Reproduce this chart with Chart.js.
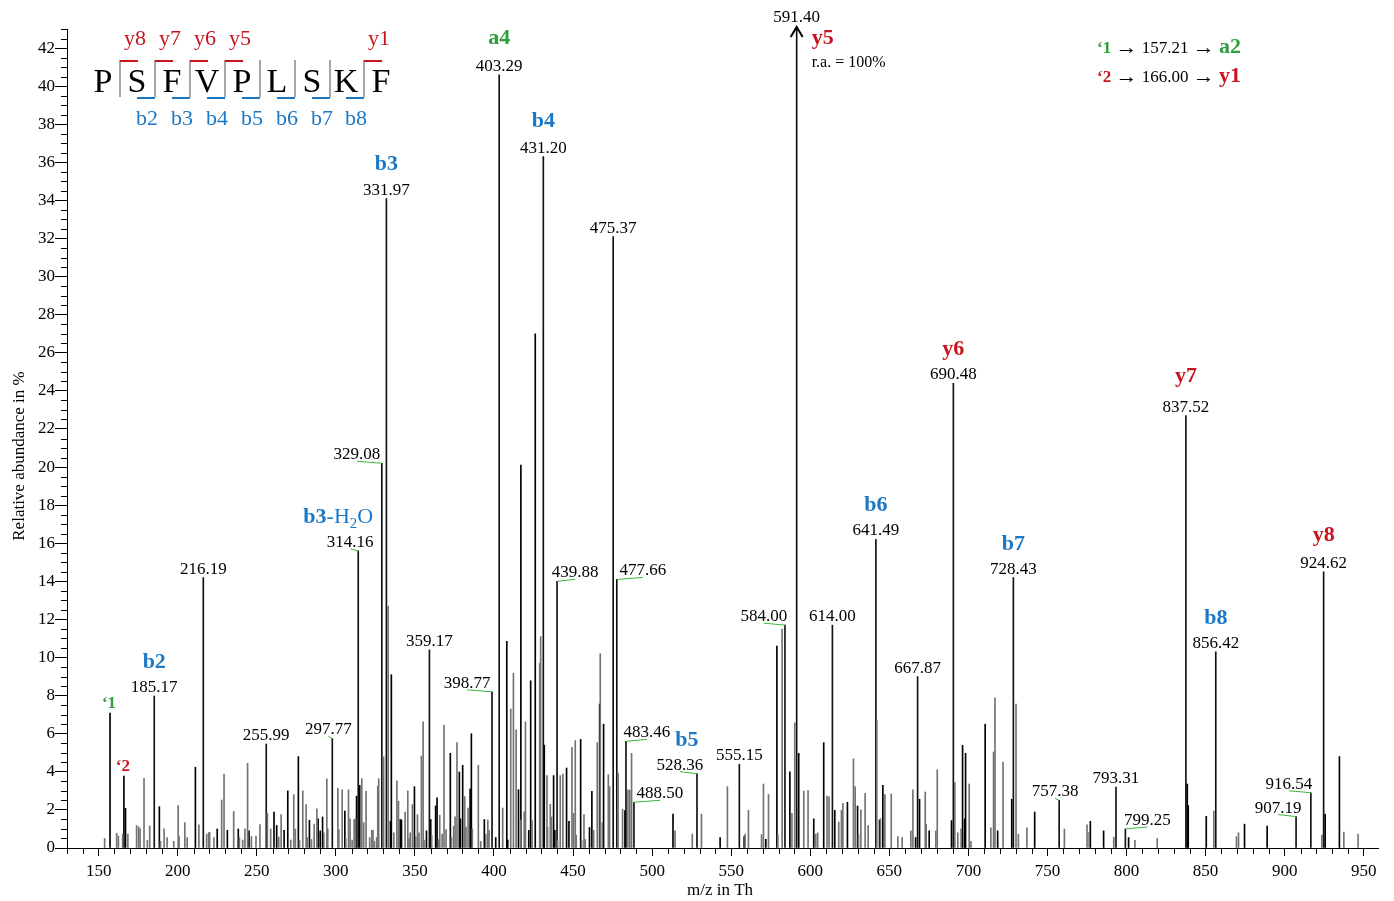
<!DOCTYPE html>
<html>
<head>
<meta charset="utf-8">
<script src="https://cdn.jsdelivr.net/npm/chart.js@4.4.1/dist/chart.umd.min.js"></script>
<style>
  html, body { margin: 0; padding: 0; background: #fff; }
  #wrap { width: 1394px; height: 901px; }
</style>
</head>
<body>
<div id="wrap"><canvas id="spectrum" width="1394" height="901"></canvas></div>
<script>
// unassigned peaks [m/z, relative abundance %], dark sticks
const darkPeaks = [
  [167.0, 2.08], [188.4, 2.17], [211.2, 4.24], [225.0, 1.0], [231.4, 0.93], [238.3, 1.0], [245.1, 0.9],
  [260.9, 1.89], [262.6, 1.18], [267.3, 0.93], [269.6, 3.0], [276.3, 4.8], [283.3, 1.46], [288.8, 1.53],
  [290.1, 0.9], [291.6, 1.63], [305.7, 1.94], [313.1, 2.72], [315.1, 3.29], [334.5, 1.4], [335.1, 9.1],
  [340.7, 1.5], [341.5, 1.47], [349.7, 3.22], [357.3, 0.9], [360.0, 1.5], [363.1, 2.21], [364.0, 2.63],
  [372.4, 4.97], [378.1, 3.99], [378.8, 1.53], [380.2, 4.34], [384.9, 3.1], [385.7, 6.0], [393.9, 1.5],
  [401.1, 0.55], [408.1, 10.85], [408.7, 0.42], [415.5, 3.06], [417.0, 20.1], [422.0, 0.93], [423.2, 8.78],
  [426.1, 27.0], [431.8, 5.4], [437.7, 3.8], [438.5, 0.93], [445.9, 4.2], [447.4, 1.4], [454.8, 5.7],
  [460.4, 1.08], [461.9, 2.97], [466.8, 7.56], [469.3, 6.5], [482.8, 1.96], [513.2, 1.78], [543.0, 0.55],
  [558.2, 0.6], [571.9, 0.45], [578.9, 10.6], [587.1, 4.0], [592.7, 4.97], [602.2, 1.53], [608.5, 5.53],
  [615.5, 1.98], [623.5, 2.4], [629.9, 2.2], [643.8, 1.47], [645.9, 3.29], [666.6, 0.55], [669.1, 2.56],
  [675.2, 0.9], [689.3, 1.44], [696.3, 5.39], [697.6, 1.53], [698.2, 4.97], [710.6, 6.5], [718.5, 0.9],
  [727.4, 2.56], [741.9, 1.89], [777.1, 1.4], [785.5, 0.9], [801.3, 0.55], [838.4, 3.36], [839.0, 2.23],
  [850.4, 1.66], [874.6, 1.25], [888.9, 1.15], [925.6, 1.78], [934.6, 4.8]
]

// unassigned peaks, grey sticks
const greyPeaks = [
  [153.8, 0.5], [161.4, 0.77], [162.5, 0.63], [165.2, 0.73], [168.5, 0.73], [174.0, 1.18], [175.3, 1.11],
  [176.2, 1.0], [178.7, 3.66], [180.8, 0.4], [182.3, 1.16], [189.1, 0.35], [191.4, 1.0], [193.3, 0.55],
  [197.5, 0.35], [200.3, 2.23], [200.9, 0.6], [204.5, 1.33], [206.0, 0.55], [213.4, 1.21], [218.3, 0.73],
  [219.6, 0.8], [220.2, 0.83], [222.9, 0.55], [227.8, 2.52], [229.3, 3.88], [235.4, 1.92], [239.0, 0.57],
  [241.1, 0.42], [242.5, 1.0], [244.2, 4.45], [246.6, 0.6], [249.5, 0.63], [252.0, 1.23], [256.7, 1.82],
  [258.8, 1.0], [263.9, 0.57], [265.4, 1.75], [271.5, 0.42], [273.4, 2.8], [274.4, 1.0], [277.0, 0.4],
  [279.1, 3.0], [281.2, 2.28], [281.9, 0.55], [284.6, 0.45], [286.3, 1.25], [288.0, 2.05], [292.4, 0.8],
  [294.3, 3.63], [294.9, 1.0], [301.3, 3.13], [301.9, 0.97], [304.0, 3.06], [306.3, 0.5], [308.0, 3.06],
  [309.0, 1.53], [310.3, 0.42], [311.6, 1.5], [312.5, 1.53], [316.4, 3.64], [317.6, 1.33], [319.1, 2.98],
  [321.4, 0.55], [322.7, 0.93], [323.5, 0.93], [324.4, 0.35], [325.8, 0.55], [326.5, 3.25], [327.1, 3.64],
  [330.2, 4.79], [333.1, 12.7], [336.7, 0.8], [338.6, 3.53], [339.6, 2.45], [343.8, 1.89], [345.5, 3.0],
  [346.3, 0.5], [347.0, 0.8], [348.4, 2.28], [350.5, 0.6], [351.6, 1.75], [352.6, 0.8], [354.1, 4.83],
  [355.2, 6.62], [355.8, 0.42], [360.6, 0.66], [364.9, 0.45], [365.7, 1.72], [367.2, 0.73], [368.4, 6.45],
  [369.7, 0.97], [373.1, 0.57], [374.5, 1.13], [375.4, 1.63], [376.6, 5.53], [381.5, 2.7], [382.3, 1.1],
  [383.6, 2.1], [386.3, 1.0], [390.1, 4.34], [391.6, 0.35], [394.8, 0.73], [396.1, 1.47], [396.9, 0.93],
  [405.5, 2.1], [410.6, 7.3], [412.3, 9.17], [414.0, 6.2], [416.8, 1.47], [419.1, 1.9], [419.9, 6.62],
  [424.1, 1.44], [428.9, 9.7], [429.5, 11.1], [433.5, 3.8], [433.9, 1.08], [435.6, 2.3],
  [436.4, 1.63], [440.2, 0.4], [441.9, 3.8], [443.6, 3.88], [449.3, 5.28], [450.3, 1.82], [451.4, 5.64],
  [452.0, 0.67], [455.4, 0.4], [456.9, 1.75], [457.7, 0.45], [463.0, 0.93], [465.3, 5.53], [467.2, 10.2],
  [468.5, 1.33], [472.3, 3.85], [473.1, 3.22], [478.5, 3.92], [481.3, 2.03], [484.7, 3.06], [485.9, 3.04],
  [487.0, 4.97], [514.5, 0.9], [525.4, 0.73], [531.2, 1.78], [547.6, 3.22], [558.8, 0.73], [560.9, 1.98],
  [569.2, 0.7], [570.4, 3.36], [573.6, 2.81], [579.5, 0.7], [582.2, 11.5], [588.4, 1.82], [590.2, 6.57],
  [595.9, 2.99], [598.6, 3.02], [603.5, 0.73], [604.7, 0.8], [610.6, 2.72], [611.9, 2.69], [618.0, 1.36],
  [619.7, 1.98], [620.6, 2.34], [627.3, 4.68], [628.4, 3.22], [630.5, 0.73], [632.0, 2.0], [634.7, 2.87],
  [636.6, 1.18], [642.1, 6.7], [644.4, 1.54], [647.2, 2.8], [651.2, 2.84], [655.4, 0.6], [658.1, 0.55],
  [663.6, 0.9], [664.9, 3.06], [672.7, 2.94], [673.3, 1.25], [679.4, 0.9], [680.3, 4.1], [691.4, 3.43],
  [693.3, 0.8], [695.4, 1.0], [700.5, 3.36], [701.6, 0.35], [714.2, 1.06], [715.9, 5.04], [716.8, 7.88],
  [721.9, 4.51], [730.1, 7.56], [731.6, 0.73], [737.0, 1.06], [760.7, 1.0], [775.0, 1.21], [776.3, 0.83],
  [791.9, 0.57], [805.3, 0.4], [819.4, 0.5], [855.2, 1.94], [869.5, 0.6], [870.8, 0.8], [923.5, 0.68],
  [937.4, 0.83], [946.4, 0.73]
]

// labelled peaks
const ionMz    = [185.17, 216.19, 255.99, 297.77, 314.16, 329.08, 331.97, 359.17, 398.77, 403.29, 431.20,
                  439.88, 475.37, 477.66, 483.46, 488.50, 528.36, 555.15, 584.00, 591.40, 614.00, 641.49,
                  667.87, 690.48, 728.43, 757.38, 793.31, 799.25, 837.52, 856.42, 907.19, 916.54, 924.62]
const ionAbund = [7.98, 14.2, 5.46, 5.75, 15.6, 20.2, 34.1, 10.4, 8.2, 40.6, 36.3,
                  14.0, 32.1, 14.1, 5.6, 2.4, 3.9, 4.4, 11.7, 100, 11.7, 16.2,
                  9.0, 24.4, 14.2, 2.5, 3.2, 1.0, 22.7, 10.3, 1.65, 2.9, 14.5]
const ionName  = ['b2', '', '', '', 'b3-H2O', '', 'b3', '', '', 'a4', 'b4',
                  '', '', '', '', '', 'b5', '', '', 'y5', '', 'b6',
                  '', 'y6', 'b7', '', '', '', 'y7', 'b8', '', '', 'y8']

// footnoted peaks
const markMz    = [157.21, 166.00]
const markAbund = [7.09, 3.78]
const markName  = ['\u20181', '\u20182']

const sequence = ['P', 'S', 'F', 'V', 'P', 'L', 'S', 'K', 'F']

// layout of the labels (pixels)
const textShift = {'297.77': -4, '314.16': -8, '329.08': -25, '398.77': -25, '439.88': 18, '477.66': 26,
  '483.46': 21, '488.50': 26, '528.36': -17, '584.00': -21, '757.38': -4, '799.25': 22, '907.19': -18, '916.54': -22}
const ionShift = {'b5': 7, 'b3-H2O': -12}
const ionLift = {'a4': 3, 'b4': 2, 'y7': 6, 'y8': 3, 'b3': 1}

const BLUE = '#1b78c4', RED = '#c8141c', GREEN = '#2f9e3c'
const SERIF = '"Liberation Serif", "Times New Roman", serif'
const ARROW = '22px "Liberation Serif"'

function ionColor(name){
  if(name[0] == 'b') return BLUE
  if(name[0] == 'y') return RED
  return GREEN
}

function drawRuns(ctx, runs, x, y, align){
  // runs: [text, font, color, dy]
  let total = 0
  runs.forEach(r => { ctx.font = r[1]; total += ctx.measureText(r[0]).width })
  let cx = align == 'center' ? x - total / 2 : x
  ctx.textAlign = 'left'
  runs.forEach(r => {
    ctx.font = r[1]; ctx.fillStyle = r[2]
    ctx.fillText(r[0], cx, y + (r[3] || 0))
    cx += ctx.measureText(r[0]).width
  })
}

const decor = {
  id: 'decor',
  afterDraw(chart){
    const ctx = chart.ctx
    const ca = chart.chartArea
    const x = chart.scales.x, y = chart.scales.y
    ctx.save()

    // minor ticks
    ctx.strokeStyle = '#000'; ctx.lineWidth = 1
    ctx.beginPath()
    for(let v = 0.5; v < 43.1; v += 0.5){
      if(v % 2 === 0) continue
      const py = Math.round(y.getPixelForValue(v)) + 0.5
      ctx.moveTo(ca.left - 6, py); ctx.lineTo(ca.left, py)
    }
    for(let v = 130; v <= 950; v += 10){
      if(v % 50 === 0) continue
      const px = Math.round(x.getPixelForValue(v)) + 0.5
      ctx.moveTo(px, ca.bottom); ctx.lineTo(px, ca.bottom + 6)
    }
    ctx.stroke()

    // axis titles
    ctx.fillStyle = '#000'
    ctx.font = '17px ' + SERIF
    ctx.textAlign = 'center'; ctx.textBaseline = 'alphabetic'
    ctx.fillText('m/z in Th', 720, 895)
    ctx.save()
    ctx.translate(24, 456); ctx.rotate(-Math.PI / 2)
    ctx.fillText('Relative abundance in %', 0, 0)
    ctx.restore()

    // peak labels
    const numFont = '17px ' + SERIF
    const ionFont = 'bold 22px ' + SERIF
    for(let i = 0; i < ionMz.length; i++){
      const key = ionMz[i].toFixed(2)
      const px = x.getPixelForValue(ionMz[i])
      const capped = ionAbund[i] > y.max
      const top = capped ? ca.top : y.getPixelForValue(ionAbund[i])
      const dx = textShift[key] || 0
      const base = capped ? top - 7 : top - 4
      ctx.font = numFont; ctx.fillStyle = '#000'; ctx.textAlign = 'center'
      ctx.fillText(key, px + dx, base)
      if(dx){
        ctx.strokeStyle = '#3cb43c'; ctx.lineWidth = 1
        ctx.beginPath(); ctx.moveTo(px + dx, top - 2); ctx.lineTo(px, top); ctx.stroke()
      }
      if(capped){
        // arrow for the off-scale base peak
        ctx.strokeStyle = '#000'; ctx.lineWidth = 2
        ctx.beginPath()
        ctx.moveTo(px - 6, top + 8); ctx.lineTo(px, top - 2); ctx.lineTo(px + 6, top + 8)
        ctx.stroke()
        ctx.font = ionFont; ctx.fillStyle = ionColor(ionName[i]); ctx.textAlign = 'left'
        ctx.fillText(ionName[i], px + 15, top + 15)
        ctx.font = '16px ' + SERIF; ctx.fillStyle = '#000'
        ctx.fillText('r.a. = 100%', px + 15, top + 38)
        continue
      }
      const name = ionName[i]
      if(!name) continue
      const lx = px + dx + (ionShift[name] || 0)
      const ly = base - 24 - (ionLift[name] || 0)
      if(name == 'b3-H2O'){
        drawRuns(ctx, [['b3', ionFont, BLUE], ['-H', '22px ' + SERIF, BLUE], ['2', '15px ' + SERIF, BLUE, 5], ['O', '22px ' + SERIF, BLUE]], lx, ly, 'center')
      } else {
        ctx.font = ionFont; ctx.fillStyle = ionColor(name); ctx.textAlign = 'center'
        ctx.fillText(name, lx, ly)
      }
    }
    for(let i = 0; i < markMz.length; i++){
      const px = x.getPixelForValue(markMz[i])
      const top = y.getPixelForValue(markAbund[i])
      ctx.font = 'bold 17px ' + SERIF; ctx.fillStyle = i == 0 ? GREEN : RED; ctx.textAlign = 'center'
      ctx.fillText(markName[i], px - 1, top - 5)
    }

    // peptide sequence with fragment marks
    const letterX = [103, 137, 172, 207, 242, 277, 312, 346, 381]
    const sepX = [120, 155, 190, 225, 260, 295, 330, 364]
    ctx.font = '34px ' + SERIF; ctx.fillStyle = '#000'; ctx.textAlign = 'center'
    sequence.forEach((s, k) => ctx.fillText(s, letterX[k], 92))
    ctx.strokeStyle = '#8a8a8a'; ctx.lineWidth = 1.5
    sepX.forEach(sx => { ctx.beginPath(); ctx.moveTo(sx, 60); ctx.lineTo(sx, 97); ctx.stroke() })
    ctx.lineWidth = 2
    const yIons = {0: 'y8', 1: 'y7', 2: 'y6', 3: 'y5', 7: 'y1'}
    ctx.font = '22px ' + SERIF
    Object.keys(yIons).forEach(k => {
      const sx = sepX[k]
      ctx.strokeStyle = RED; ctx.beginPath(); ctx.moveTo(sx, 61); ctx.lineTo(sx + 18, 61); ctx.stroke()
      ctx.fillStyle = RED; ctx.fillText(yIons[k], sx + 15, 45)
    })
    for(let k = 1; k < sepX.length; k++){
      const sx = sepX[k]
      ctx.strokeStyle = BLUE; ctx.beginPath(); ctx.moveTo(sx - 18, 98); ctx.lineTo(sx, 98); ctx.stroke()
      ctx.fillStyle = BLUE; ctx.fillText('b' + (k + 1), sx - 8, 125)
    }

    // footnote legend
    const small = '17px ' + SERIF
    drawRuns(ctx, [['\u20181', 'bold 17px ' + SERIF, GREEN], [' ', small, '#000'], ['\u2192', ARROW, '#000', 1],
      [' 157.21 ', small, '#000'], ['\u2192', ARROW, '#000', 1], [' ', small, '#000'], ['a2', 'bold 22px ' + SERIF, GREEN]], 1097, 53, 'left')
    drawRuns(ctx, [['\u20182', 'bold 17px ' + SERIF, RED], [' ', small, '#000'], ['\u2192', ARROW, '#000', 1],
      [' 166.00 ', small, '#000'], ['\u2192', ARROW, '#000', 1], [' ', small, '#000'], ['y1', 'bold 22px ' + SERIF, RED]], 1097, 82, 'left')

    ctx.restore()
  }
}

function toPoints(list){
  return list.map(p => ({x: p[0], y: p[1]}))
}

const ctx = document.getElementById('spectrum').getContext('2d')
new Chart(ctx, {
  type: 'bar',
  data: {
    datasets: [
      {label: 'grey', data: toPoints(greyPeaks), backgroundColor: '#737373', barThickness: 1, grouped: false},
      {label: 'dark', data: toPoints(darkPeaks), backgroundColor: '#000000', barThickness: 1, grouped: false},
      {label: 'marks', data: markMz.map((m, i) => ({x: m, y: markAbund[i]})), backgroundColor: '#000000', barThickness: 1, grouped: false},
      {label: 'ions', data: ionMz.map((m, i) => ({x: m, y: ionAbund[i]})), backgroundColor: '#111111', barThickness: 1, grouped: false}
    ]
  },
  options: {
    responsive: false,
    animation: false,
    layout: {padding: {left: 1, right: 16, top: 29, bottom: 0}},
    plugins: {legend: {display: false}, tooltip: {enabled: false}},
    scales: {
      x: {
        type: 'linear', min: 130, max: 959, offset: false,
        afterFit: s => { s.height = 53 },
        border: {display: true, color: '#000', width: 1},
        grid: {drawOnChartArea: false, offset: false, tickLength: 8,
          tickColor: c => (c.tick && c.tick.value % 50 === 0) ? '#000' : 'rgba(0,0,0,0)'},
        ticks: {stepSize: 10, includeBounds: false, autoSkip: false, maxRotation: 0, padding: 5, color: '#000',
          font: {family: SERIF, size: 17},
          callback: v => v % 50 === 0 ? v : ''}
      },
      y: {
        min: 0, max: 43,
        afterFit: s => { s.width = 66 },
        border: {display: true, color: '#000', width: 1},
        grid: {drawOnChartArea: false, tickLength: 12,
          tickColor: c => (c.tick && c.tick.value % 2 === 0) ? '#000' : 'rgba(0,0,0,0)'},
        ticks: {stepSize: 0.5, includeBounds: false, autoSkip: false, padding: 0, color: '#000',
          font: {family: SERIF, size: 17},
          callback: v => v % 2 === 0 ? v : ''}
      }
    }
  },
  plugins: [decor]
})
</script>
</body>
</html>
